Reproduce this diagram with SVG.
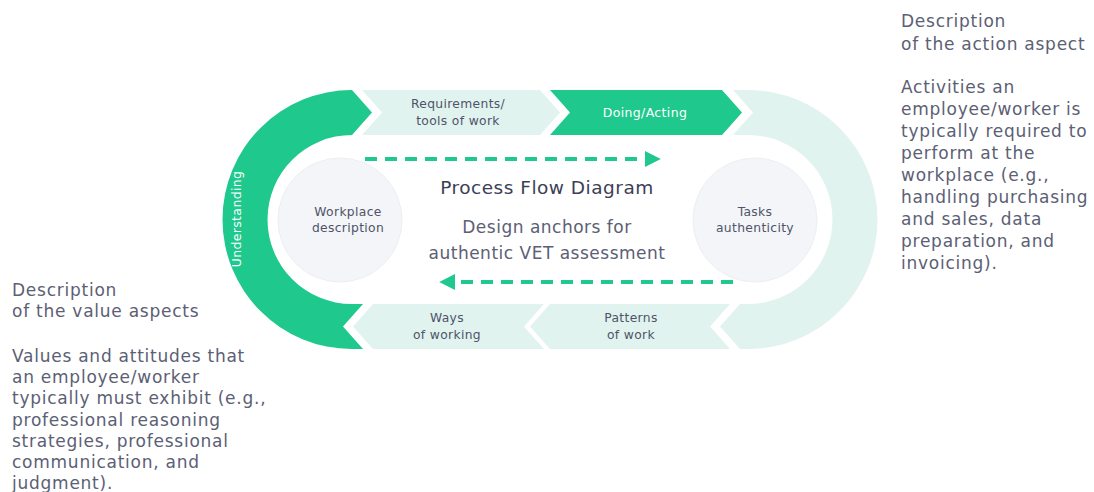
<svg xmlns="http://www.w3.org/2000/svg" width="1094" height="492" viewBox="0 0 1094 492">
<style>
.side{font-family:"DejaVu Sans","Liberation Sans",sans-serif;font-size:17px;letter-spacing:0.75px;fill:#5b6074}
.lbl{font-family:"DejaVu Sans","Liberation Sans",sans-serif;font-size:12.3px;letter-spacing:0.35px;fill:#4f5468;text-anchor:middle}
.wlbl{font-family:"DejaVu Sans","Liberation Sans",sans-serif;font-size:12.5px;letter-spacing:0.35px;fill:#ffffff;text-anchor:middle}
.green{fill:#1fc88c}
.mint{fill:#e0f3ef}
.circ{fill:#f3f5f8;stroke:#eceff3;stroke-width:1}
.dash{stroke:#1fc88c;stroke-width:4;stroke-dasharray:12 8;fill:none}
.ttl{font-family:"DejaVu Sans","Liberation Sans",sans-serif;font-size:18.5px;letter-spacing:0.5px;fill:#3b4057;text-anchor:middle}
.sub{font-family:"DejaVu Sans","Liberation Sans",sans-serif;font-size:17px;letter-spacing:0.5px;fill:#5b6074;text-anchor:middle}
</style>
<defs>
<marker id="ah" viewBox="0 0 10 10" refX="2" refY="5" markerWidth="4" markerHeight="4" orient="auto" markerUnits="strokeWidth">
<path d="M0,0 L10,5 L0,10 Z" fill="#1fc88c"/>
</marker>
</defs>
<rect width="1094" height="492" fill="#ffffff"/>

<g id="understanding">
<path class="green" d="M352,90 L372,112.5 L352,135 A84.5,84.5 0 0 0 352,304 L363,304 L343,326.5 L363,349 L352,349 A129.5,129.5 0 0 1 352,90 Z"/>
<text class="wlbl" transform="translate(241,219) rotate(-90)">Understanding</text>
</g>

<g id="right-arc">
<path class="mint" d="M733,90 L748,90 A129.5,129.5 0 0 1 748,349 L740,349 L720,326.5 L740,304 L748,304 A84.5,84.5 0 0 0 748,135 L733,135 L753,112.5 Z"/>
</g>

<g id="requirements">
<path class="mint" d="M362,90 L540,90 L560,112.5 L540,135 L362,135 L382,112.5 Z"/>
<text class="lbl" x="458" y="108">Requirements/</text>
<text class="lbl" x="458" y="125">tools of work</text>
</g>

<g id="doing">
<path class="green" d="M550,90 L722,90 L742,112.5 L722,135 L550,135 L570,112.5 Z"/>
<text class="wlbl" x="645" y="117">Doing/Acting</text>
</g>

<g id="patterns">
<path class="mint" d="M550,304 L730,304 L710,326.5 L730,349 L550,349 L530,326.5 Z"/>
<text class="lbl" x="631" y="322">Patterns</text>
<text class="lbl" x="631" y="339">of work</text>
</g>

<g id="ways">
<path class="mint" d="M373,304 L544,304 L524,326.5 L544,349 L373,349 L353,326.5 Z"/>
<text class="lbl" x="447" y="322">Ways</text>
<text class="lbl" x="447" y="339">of working</text>
</g>

<g id="workplace">
<circle class="circ" cx="340" cy="220" r="62"/>
<text class="lbl" x="348" y="216">Workplace</text>
<text class="lbl" x="348" y="232">description</text>
</g>

<g id="tasks">
<circle class="circ" cx="755" cy="220" r="62"/>
<text class="lbl" x="755" y="216">Tasks</text>
<text class="lbl" x="755" y="232">authenticity</text>
</g>

<g id="connectors">
<path class="dash" d="M365,159 L648,159" marker-end="url(#ah)"/>
<path class="dash" d="M733,282 L452,282" marker-end="url(#ah)"/>
</g>

<g id="title">
<text class="ttl" x="547" y="194">Process Flow Diagram</text>
<text class="sub" x="547" y="233">Design anchors for</text>
<text class="sub" x="547" y="259">authentic VET assessment</text>
</g>

<g id="action-description">
<text class="side" x="901" y="27">Description</text>
<text class="side" x="901" y="50">of the action aspect</text>
<text class="side" x="901" y="93">Activities an</text>
<text class="side" x="901" y="115">employee/worker is</text>
<text class="side" x="901" y="137">typically required to</text>
<text class="side" x="901" y="159">perform at the</text>
<text class="side" x="901" y="181">workplace (e.g.,</text>
<text class="side" x="901" y="203">handling purchasing</text>
<text class="side" x="901" y="225">and sales, data</text>
<text class="side" x="901" y="247">preparation, and</text>
<text class="side" x="901" y="269">invoicing).</text>
</g>

<g id="value-description">
<text class="side" x="12" y="296">Description</text>
<text class="side" x="12" y="317">of the value aspects</text>
<text class="side" x="12" y="362">Values and attitudes that</text>
<text class="side" x="12" y="383">an employee/worker</text>
<text class="side" x="12" y="404">typically must exhibit (e.g.,</text>
<text class="side" x="12" y="426">professional reasoning</text>
<text class="side" x="12" y="447">strategies, professional</text>
<text class="side" x="12" y="468">communication, and</text>
<text class="side" x="12" y="489">judgment).</text>
</g>
</svg>
